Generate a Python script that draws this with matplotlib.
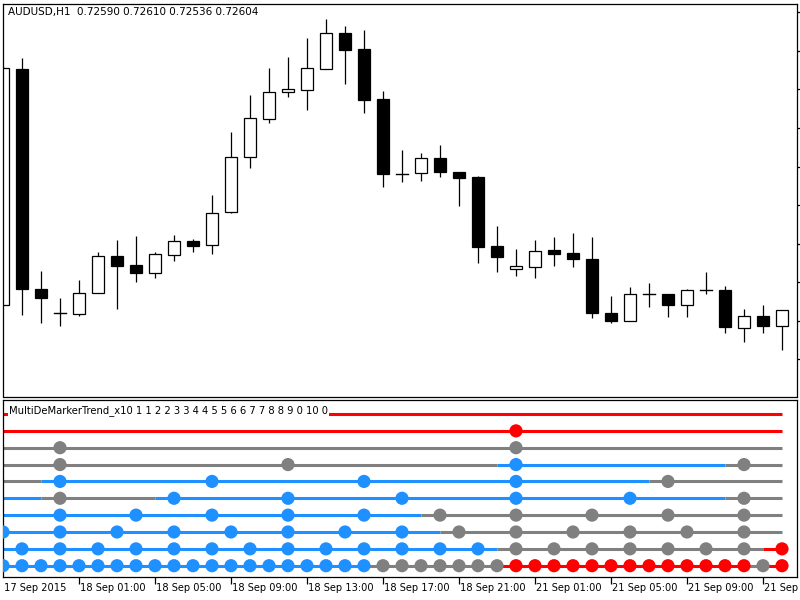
import matplotlib
matplotlib.use("Agg")
import matplotlib.pyplot as plt
from matplotlib.patches import Rectangle
import matplotlib.transforms as mtransforms

# ---------------- data ----------------
chart_title = "AUDUSD,H1  0.72590 0.72610 0.72536 0.72604"
indicator_label = "MultiDeMarkerTrend_x10 1 1 2 2 3 3 4 4 5 5 6 6 7 7 8 8 9 0 10 0"

opens = [0.72631, 0.73856, 0.72715, 0.72590, 0.72585, 0.72694, 0.72886, 0.72839,
         0.72798, 0.72891, 0.72964, 0.72943, 0.73114, 0.73400, 0.73597, 0.73737,
         0.73747, 0.73856, 0.74043, 0.73960, 0.73701, 0.73311, 0.73317, 0.73394,
         0.73322, 0.73296, 0.72938, 0.72818, 0.72829, 0.72917, 0.72901, 0.72870,
         0.72590, 0.72548, 0.72689, 0.72689, 0.72631, 0.72709, 0.72709, 0.72512,
         0.72574, 0.72522]
highs = [0.73872, 0.73913, 0.72808, 0.72668, 0.72761, 0.72907, 0.72969, 0.72990,
         0.72907, 0.72995, 0.72974, 0.73202, 0.73529, 0.73721, 0.73861, 0.73919,
         0.74017, 0.74116, 0.74080, 0.74059, 0.73742, 0.73436, 0.73420, 0.73462,
         0.73322, 0.73301, 0.73042, 0.72922, 0.72969, 0.72984, 0.73005, 0.72984,
         0.72678, 0.72725, 0.72746, 0.72689, 0.72715, 0.72803, 0.72730, 0.72611,
         0.72631, 0.72606]
lows = [0.72626, 0.72580, 0.72538, 0.72522, 0.72574, 0.72694, 0.72611, 0.72751,
        0.72772, 0.72860, 0.72907, 0.72896, 0.73109, 0.73343, 0.73576, 0.73711,
        0.73644, 0.73856, 0.73778, 0.73628, 0.73244, 0.73270, 0.73275, 0.73296,
        0.73145, 0.72850, 0.72803, 0.72782, 0.72772, 0.72834, 0.72829, 0.72564,
        0.72538, 0.72548, 0.72621, 0.72569, 0.72569, 0.72689, 0.72486, 0.72439,
        0.72486, 0.72398]
closes = [0.73861, 0.72715, 0.72668, 0.72590, 0.72694, 0.72886, 0.72834, 0.72798,
          0.72896, 0.72964, 0.72938, 0.73109, 0.73400, 0.73602, 0.73737, 0.73753,
          0.73861, 0.74043, 0.73955, 0.73695, 0.73311, 0.73311, 0.73394, 0.73322,
          0.73291, 0.72933, 0.72881, 0.72834, 0.72912, 0.72896, 0.72870, 0.72590,
          0.72548, 0.72689, 0.72689, 0.72631, 0.72709, 0.72709, 0.72517, 0.72574,
          0.72522, 0.72606]

price_ticks = [0.7235, 0.7255, 0.7275, 0.7295, 0.7315, 0.7335, 0.7355, 0.7375,
               0.7395, 0.7415]

time_tick_bars = [0, 4, 8, 12, 16, 20, 24, 28, 32, 36, 40]
time_tick_labels = ["17 Sep 2015", "18 Sep 01:00", "18 Sep 05:00", "18 Sep 09:00",
                    "18 Sep 13:00", "18 Sep 17:00", "18 Sep 21:00", "21 Sep 01:00",
                    "21 Sep 05:00", "21 Sep 09:00", "21 Sep 13:00"]

# indicator rows (top to bottom): level value, colour runs over the 42 bars, dot bars
row_levels = [10, 9, 8, 7, 6, 5, 4, 3, 2, 1]
row_color_runs = [
    [("R", 42)],
    [("R", 42)],
    [("G", 42)],
    [("G", 27), ("B", 12), ("G", 3)],
    [("G", 3), ("B", 32), ("G", 7)],
    [("B", 3), ("G", 6), ("B", 30), ("G", 3)],
    [("B", 23), ("G", 19)],
    [("B", 24), ("G", 18)],
    [("B", 27), ("G", 14), ("R", 1)],
    [("B", 20), ("G", 7), ("R", 13), ("G", 1), ("R", 1)],
]
row_dot_bars = [
    [],
    [27],
    [3, 27],
    [3, 15, 27, 39],
    [3, 11, 19, 27, 35],
    [3, 9, 15, 21, 27, 33, 39],
    [3, 7, 11, 15, 19, 23, 27, 31, 35, 39],
    [0, 3, 6, 9, 12, 15, 18, 21, 24, 27, 30, 33, 36, 39],
    [1, 3, 5, 7, 9, 11, 13, 15, 17, 19, 21, 23, 25, 27, 29, 31, 33, 35, 37, 39, 41],
    list(range(42)),
]
palette = {"B": "#1E90FF", "G": "#808080", "R": "#FF0000"}

# ---------------- figure ----------------
W, H = 800, 600
fig = plt.figure(figsize=(8, 6), dpi=100)
fig.patch.set_facecolor("white")

def px_axes(x0, y0, x1, y1):
    return fig.add_axes([x0 / W, 1 - y1 / H, (x1 - x0) / W, (y1 - y0) / H])

ax = px_axes(3, 3.5, 797, 396.5)
ax2 = px_axes(3, 399.5, 797, 577)

n = len(opens)
xmax = (797 - 3) / 19.0
body_w = 0.66

for a in (ax, ax2):
    a.set_xlim(0, xmax)
    for s in a.spines.values():
        s.set_linewidth(0.9)
        s.set_color("black")

# candles
for i in range(n):
    o, h, l, c = opens[i], highs[i], lows[i], closes[i]
    top, bot = max(o, c), min(o, c)
    ax.plot([i, i], [l, h], color="black", lw=0.9, zorder=1, solid_capstyle="butt")
    if abs(c - o) < 1e-6:
        ax.plot([i - body_w / 2, i + body_w / 2], [o, o], color="black", lw=1.0, zorder=2)
    else:
        face = "white" if c > o else "black"
        ax.add_patch(Rectangle((i - body_w / 2, bot), body_w, top - bot,
                               facecolor=face, edgecolor="black", lw=0.9, zorder=2))

ax.set_ylim(0.72157, 0.74196)
ax.set_xticks([])
ax.yaxis.tick_right()
ax.set_yticks(price_ticks)
ax.tick_params(axis="y", which="both", direction="out", length=3, width=0.9,
               labelright=False, labelleft=False, right=True, left=False)
ax.text(5 / 794, 1 - (12 - 3.5) / 393, chart_title, transform=ax.transAxes,
        fontsize=7.5, va="center", ha="left", family="DejaVu Sans")

# indicator
for level, runs, dots in zip(row_levels, row_color_runs, row_dot_bars):
    cols = []
    for code, cnt in runs:
        cols += [code] * cnt
    # segment (i-1 -> i) takes the colour of bar i; merge equal-colour stretches
    start = 1
    while start < n:
        end = start
        while end + 1 < n and cols[end + 1] == cols[start]:
            end += 1
        xs = list(range(start - 1, end + 1))
        ax2.plot(xs, [level] * len(xs), color=palette[cols[start]], lw=2.2,
                 solid_capstyle="butt", zorder=2)
        start = end + 1
    if dots:
        ax2.scatter(dots, [level] * len(dots), s=90,
                    c=[palette[cols[d]] for d in dots], edgecolors="none", zorder=3)

ax2.set_ylim(0.33, 10.86)
ax2.set_yticks([])
ax2.set_xticks(time_tick_bars[1:])
ax2.tick_params(axis="x", direction="out", length=5, width=0.9, labelbottom=False)
ax2.text(6 / 794, (577 - 411) / 177.5, indicator_label, transform=ax2.transAxes,
         fontsize=7.2, va="center", ha="left", family="DejaVu Sans", zorder=5,
         bbox=dict(facecolor="white", edgecolor="none", pad=0.5))

trans = mtransforms.blended_transform_factory(ax2.transData, ax2.transAxes)
for b, lab in zip(time_tick_bars, time_tick_labels):
    ax2.text(b + 0.06, (577 - 588) / 177.5, lab, transform=trans, fontsize=7.1,
             va="center", ha="left", family="DejaVu Sans", clip_on=False)

fig.savefig("out.png", dpi=100, facecolor="white")
